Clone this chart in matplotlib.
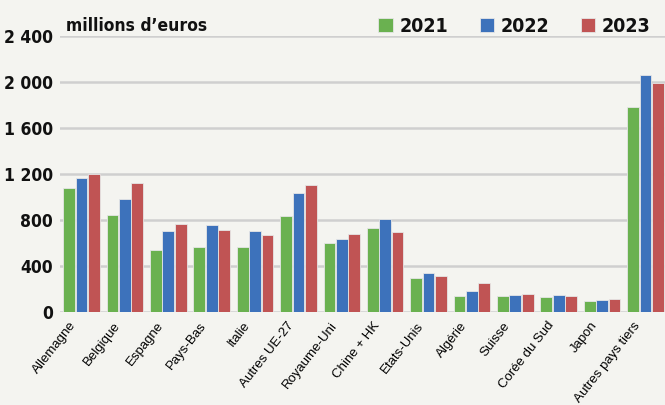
import matplotlib.pyplot as plt
import matplotlib.transforms as mtransforms
import numpy as np

pays = ['Allemagne', 'Belgique', 'Espagne', 'Pays-Bas', 'Italie', 'Autres UE-27',
        'Royaume-Uni', 'Chine + HK', 'Etats-Unis', 'Algérie', 'Suisse',
        'Corée du Sud', 'Japon', 'Autres pays tiers']
v2021 = [1075, 845, 535, 562, 565, 838, 600, 731, 298, 139, 139, 130, 96, 1786]
v2022 = [1162, 986, 705, 754, 707, 1038, 638, 809, 339, 185, 148, 150, 104, 2064]
v2023 = [1200, 1119, 766, 716, 672, 1101, 681, 699, 316, 249, 159, 142, 113, 1989]
annees = ['2021', '2022', '2023']
couleurs = ['#6ab150', '#3d72bb', '#c05454']

bg = '#f4f4f0'
cond = dict(family='DejaVu Sans', stretch='condensed', fontweight='bold')

fig = plt.figure(figsize=(6.65, 4.05), dpi=100, facecolor=bg)
ax = fig.add_axes([0.09, 0.23, 0.91, 0.681])
ax.set_facecolor(bg)

x = np.arange(len(pays))
w = 0.27
for i, (vals, c, lab) in enumerate(zip([v2021, v2022, v2023], couleurs, annees)):
    ax.bar(x + (i - 1) * (w + 0.015), vals, width=w, color=c, edgecolor='#e6e6e6',
           linewidth=0.6, label=lab, zorder=3)

ax.set_xlim(-0.5, 13.45)
ax.set_ylim(0, 2400)
ax.set_yticks(range(0, 2401, 400))
ax.set_yticklabels(['0', '400', '800', '1 200', '1 600', '2 000', '2 400'],
                   fontsize=12.5, color='#111111', **cond)
ax.grid(axis='y', color='#cfcfcf', linewidth=1.8, zorder=0)
ax.set_axisbelow(True)
for s in ax.spines.values():
    s.set_visible(False)
ax.tick_params(axis='both', length=0)
ax.tick_params(axis='y', pad=5)

ax.set_xticks(x)
ax.set_xticklabels(pays, rotation=52, ha='right', rotation_mode='anchor', fontsize=9.5,
                   family=['Liberation Sans', 'DejaVu Sans'])
decal = mtransforms.ScaledTranslation(-12 / 100, -3 / 100, fig.dpi_scale_trans)
for t in ax.get_xticklabels():
    t.set_transform(t.get_transform() + decal)

fig.text(0.1, 0.935, 'millions d\u2019euros', fontsize=12.5, va='center', ha='left',
         color='#111111', **cond)

leg = fig.legend(loc='center right', bbox_to_anchor=(1.005, 0.935), ncol=3, frameon=False,
                 handlelength=0.75, handleheight=0.75, handletextpad=0.35, columnspacing=1.6,
                 prop={'family': 'DejaVu Sans', 'stretch': 'condensed', 'size': 14,
                       'weight': 'bold'})
for t in leg.get_texts():
    t.set_color('#111111')

fig.savefig('out.png', dpi=100, facecolor=bg)
